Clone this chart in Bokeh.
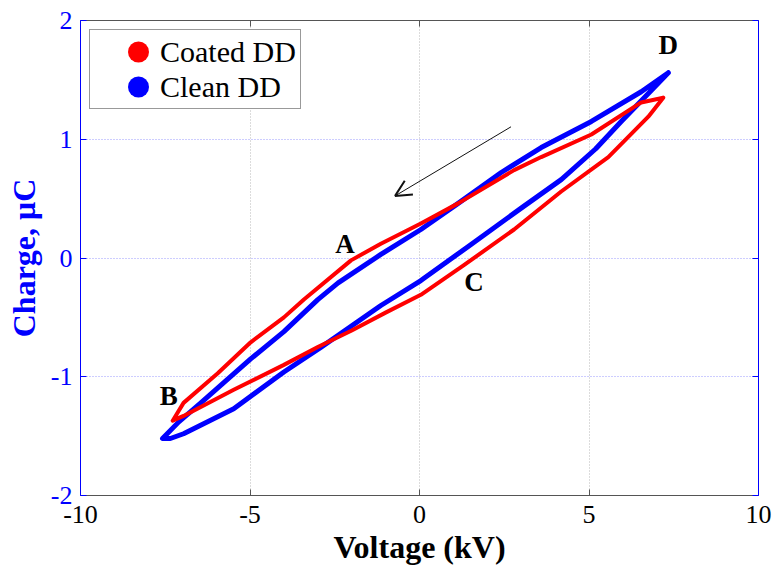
from bokeh.plotting import figure
from bokeh.models import (LinearAxis, FixedTicker, Legend, LegendItem, Arrow,
                          OpenHead, Label)
from bokeh.embed import file_html
from bokeh.resources import INLINE

# ---------------- data ----------------
x_ticks = [-10, -5, 0, 5, 10]
x_tick_labels = ["-10", "-5", "0", "5", "10"]
y_ticks = [-2, -1, 0, 1, 2]
y_tick_labels = ["-2", "-1", "0", "1", "2"]

# Clean DD (blue): upper branch D -> B, lower branch B -> D
clean_upper_v = [7.34, 6.54, 5.07, 3.59, 2.41, 1.14, 0.04, -1.14, -2.40, -3.00, -4.00, -4.98, -6.45, -7.10, -7.58]
clean_upper_q = [1.56, 1.40, 1.15, 0.93, 0.72, 0.46, 0.24, 0.03, -0.21, -0.35, -0.62, -0.85, -1.22, -1.38, -1.52]
clean_lower_v = [-7.58, -7.35, -6.96, -5.48, -4.00, -2.90, -1.14, 0.04, 1.50, 3.00, 4.18, 5.20, 5.95, 6.80, 7.34]
clean_lower_q = [-1.52, -1.52, -1.48, -1.27, -0.96, -0.75, -0.40, -0.19, 0.11, 0.42, 0.66, 0.92, 1.15, 1.40, 1.56]

# Coated DD (red)
coated_upper_v = [7.19, 6.54, 5.07, 3.59, 2.79, 1.14, 0.04, -1.14, -2.02, -3.41, -4.00, -4.98, -5.95, -6.96, -7.28]
coated_upper_q = [1.35, 1.31, 1.04, 0.85, 0.74, 0.46, 0.29, 0.12, -0.02, -0.35, -0.50, -0.71, -0.97, -1.22, -1.37]
coated_lower_v = [-7.28, -6.96, -5.48, -4.00, -3.00, -2.00, -1.00, 0.04, 1.31, 2.79, 4.18, 5.57, 6.75, 7.19]
coated_lower_q = [-1.37, -1.33, -1.11, -0.90, -0.75, -0.61, -0.46, -0.31, -0.06, 0.24, 0.56, 0.85, 1.19, 1.35]

series_names = ["Coated DD", "Clean DD"]
point_labels = ["A", "B", "C", "D"]

# ---------------- styling / positions ----------------
SERIF = "Liberation Serif"
BLUE = "#0000ff"
RED = "#ff0000"
label_pos = {"A": (-2.20, 0.12), "B": (-7.40, -1.16), "C": (1.61, -0.20), "D": (7.34, 1.79)}

p = figure(width=775, height=567, x_range=(-10, 10), y_range=(-2, 2),
           output_backend="svg", toolbar_location=None,
           min_border_left=80, min_border_right=17, min_border_top=20,
           min_border_bottom=72)
p.outline_line_color = None
p.background_fill_color = "white"
p.border_fill_color = "white"

# grids
p.xgrid.ticker = FixedTicker(ticks=x_ticks)
p.ygrid.ticker = FixedTicker(ticks=y_ticks)
p.xgrid.grid_line_color = "#b8b8b8"
p.xgrid.grid_line_dash = "1 2"
p.ygrid.grid_line_color = "#9a9aff"
p.ygrid.grid_line_dash = "1 2"

# bottom axis
xa = p.xaxis[0]
xa.ticker = FixedTicker(ticks=x_ticks)
xa.major_label_overrides = dict(zip(x_ticks, x_tick_labels))
xa.axis_line_color = "#555555"
xa.major_tick_line_color = "#555555"
xa.major_tick_in = 6
xa.major_tick_out = 0
xa.minor_tick_line_color = None
xa.major_label_text_font = SERIF
xa.major_label_text_font_size = "26px"
xa.major_label_text_color = "black"
xa.major_label_standoff = 10
xa.axis_label = "Voltage (kV)"
xa.axis_label_text_font = SERIF
xa.axis_label_text_font_size = "32px"
xa.axis_label_text_font_style = "bold"
xa.axis_label_text_color = "black"
xa.axis_label_standoff = 3

# left axis
ya = p.yaxis[0]
ya.ticker = FixedTicker(ticks=y_ticks)
ya.major_label_overrides = dict(zip(y_ticks, y_tick_labels))
ya.axis_line_color = BLUE
ya.major_tick_line_color = BLUE
ya.major_tick_in = 6
ya.major_tick_out = 0
ya.minor_tick_line_color = None
ya.major_label_text_font = SERIF
ya.major_label_text_font_size = "26px"
ya.major_label_text_color = BLUE
ya.major_label_standoff = 8
ya.axis_label = "Charge, \u03bcC"
ya.axis_label_text_font = SERIF
ya.axis_label_text_font_size = "32px"
ya.axis_label_text_font_style = "bold"
ya.axis_label_text_color = BLUE
ya.axis_label_standoff = 6

# top and right frame axes (ticks only)
top = LinearAxis(ticker=FixedTicker(ticks=x_ticks),
                 major_label_overrides={t: "" for t in x_ticks},
                 major_label_text_font_size="1px", major_label_standoff=0,
                 axis_line_color="#555555", major_tick_line_color="#555555",
                 major_tick_in=6, major_tick_out=0, minor_tick_line_color=None)
right = LinearAxis(ticker=FixedTicker(ticks=y_ticks),
                   major_label_overrides={t: "" for t in y_ticks},
                   major_label_text_font_size="1px", major_label_standoff=0,
                   axis_line_color=BLUE, major_tick_line_color=BLUE,
                   major_tick_in=6, major_tick_out=0, minor_tick_line_color=None)
p.add_layout(top, "above")
p.add_layout(right, "right")

# loops
clean_v = clean_upper_v + clean_lower_v[1:]
clean_q = clean_upper_q + clean_lower_q[1:]
coated_v = coated_upper_v + coated_lower_v[1:]
coated_q = coated_upper_q + coated_lower_q[1:]

p.line(clean_v, clean_q, line_color=BLUE, line_width=5, line_join="round", line_cap="round")
p.line(coated_v, coated_q, line_color=RED, line_width=4, line_join="round", line_cap="round")

# legend proxies: a round-capped zero-length dash gives a filled dot
nan = float("nan")
leg_red = p.line([nan], [nan], line_color=RED, line_width=21, line_cap="round",
                 line_dash="0 300", line_dash_offset=256)
leg_blue = p.line([nan], [nan], line_color=BLUE, line_width=21, line_cap="round",
                  line_dash="0 300", line_dash_offset=256)
legend = Legend(items=[LegendItem(label=series_names[0], renderers=[leg_red]),
                       LegendItem(label=series_names[1], renderers=[leg_blue])],
                location="top_left", margin=9, padding=4, spacing=0,
                glyph_width=66, glyph_height=35, label_height=35,
                label_standoff=0,
                label_text_font=SERIF, label_text_font_size="30px",
                label_text_color="black",
                border_line_color="#333333", border_line_width=1,
                background_fill_color="white", background_fill_alpha=1)
p.add_layout(legend)

# point labels
for name in point_labels:
    lx, ly = label_pos[name]
    p.add_layout(Label(x=lx, y=ly, text=name, text_font=SERIF, text_font_size="27px",
                       text_font_style="bold", text_color="black",
                       text_align="center", text_baseline="middle"))

# direction arrow
p.add_layout(Arrow(end=OpenHead(size=16, line_width=2, line_color="#111111"),
                   x_start=2.70, y_start=1.105, x_end=-0.72, y_end=0.523,
                   line_width=1, line_color="#111111"))

open("out.html", "w").write(file_html(p, INLINE))
